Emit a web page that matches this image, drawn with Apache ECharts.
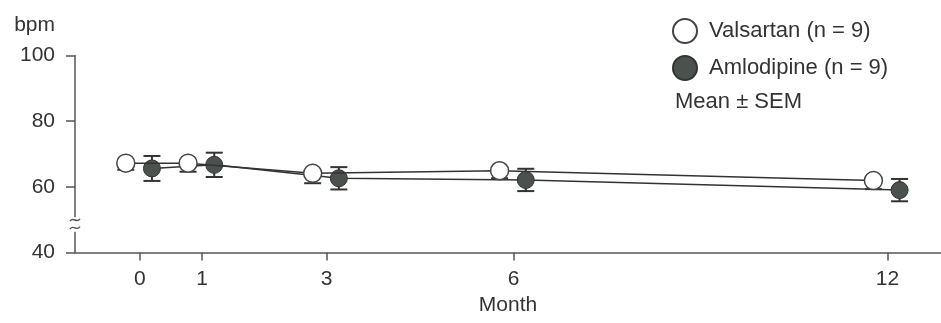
<!DOCTYPE html>
<html>
<head>
<meta charset="utf-8">
<script src="https://cdn.jsdelivr.net/npm/echarts@6/dist/echarts.min.js"></script>
<style>
html,body{margin:0;padding:0;background:#fff;}
#main{width:941px;height:323px;}
</style>
</head>
<body>
<div id="main"></div>
<script>
// ---- data ----
const months = [0, 1, 3, 6, 12];
const xTickLabels = ['0', '1', '3', '6', '12'];
const yTicks = [40, 60, 80, 100];
const valsartanMean = [67.2, 67.2, 64.1, 64.9, 61.9];
const valsartanSem = [2.0, 2.6, 3.0, 2.3, 2.6];
const amlodipineMean = [65.6, 66.7, 62.6, 62.1, 59.0];
const amlodipineSem = [3.8, 3.7, 3.4, 3.4, 3.4];
const seriesNames = ['Valsartan (n = 9)', 'Amlodipine (n = 9)'];

// small horizontal dodge so the two groups do not overlap (in months)
const dodgeV = -0.225, dodgeA = 0.195;

const FONT = 'Liberation Sans, Arial, sans-serif';
const INK = '#333';

const vPts = months.map((m, i) => [m + dodgeV, valsartanMean[i]]);
const aPts = months.map((m, i) => [m + dodgeA, amlodipineMean[i]]);
// [x, low, high, showTopCap]
const vErr = months.map((m, i) => [m + dodgeV, valsartanMean[i] - valsartanSem[i], valsartanMean[i], 0]);
const aErr = months.map((m, i) => [m + dodgeA, amlodipineMean[i] - amlodipineSem[i], amlodipineMean[i] + amlodipineSem[i], 1]);

function errRender(params, api) {
  const x = api.value(0), lo = api.value(1), hi = api.value(2), top = api.value(3);
  const pLo = api.coord([x, lo]);
  const pHi = api.coord([x, hi]);
  const hw = 8.5;
  const st = { stroke: INK, lineWidth: 2 };
  const ch = [
    { type: 'line', shape: { x1: pLo[0], y1: pLo[1], x2: pHi[0], y2: pHi[1] }, style: st },
    { type: 'line', shape: { x1: pLo[0] - hw, y1: pLo[1], x2: pLo[0] + hw, y2: pLo[1] }, style: st }
  ];
  if (top) ch.push({ type: 'line', shape: { x1: pHi[0] - hw, y1: pHi[1], x2: pHi[0] + hw, y2: pHi[1] }, style: st });
  return { type: 'group', children: ch };
}

const chart = echarts.init(document.getElementById('main'), null, { renderer: 'canvas' });
const option = {
  animation: false,
  backgroundColor: '#fff',
  textStyle: { fontFamily: FONT },
  grid: { left: 75, right: 0, top: 55.5, bottom: 70.5, containLabel: false },
  xAxis: {
    type: 'value', min: -1.04, max: 12.86,
    name: 'Month', nameLocation: 'middle', nameGap: 37,
    nameTextStyle: { fontSize: 21, color: INK, fontFamily: FONT },
    axisLine: { show: true, onZero: false, lineStyle: { color: '#555', width: 1.5 } },
    axisTick: { show: true, length: 8, customValues: months, lineStyle: { color: '#555', width: 1.5 } },
    axisLabel: { customValues: months, formatter: v => xTickLabels[months.indexOf(v)], fontSize: 21, color: INK, margin: 16, fontFamily: FONT },
    splitLine: { show: false }
  },
  yAxis: {
    type: 'value', min: 40, max: 100, interval: 20,
    axisLine: { show: true, onZero: false, lineStyle: { color: '#555', width: 1.5 } },
    axisTick: { show: true, length: 9, customValues: yTicks, lineStyle: { color: '#555', width: 1.5 } },
    axisLabel: { fontSize: 21, color: INK, margin: 20, fontFamily: FONT },
    splitLine: { show: false }
  },
  legend: {
    left: 667, top: 13, orient: 'vertical', icon: 'circle',
    itemWidth: 24, itemHeight: 24, itemGap: 11,
    data: seriesNames,
    textStyle: { fontSize: 22, color: INK, fontFamily: FONT, padding: [0, 0, 0, 7], lineHeight: 24 }
  },
  series: [
    { type: 'custom', name: 'vErr', renderItem: errRender, data: vErr, z: 1, silent: true, encode: { x: 0, y: [1, 2] } },
    { type: 'custom', name: 'aErr', renderItem: errRender, data: aErr, z: 1, silent: true, encode: { x: 0, y: [1, 2] } },
    {
      type: 'line', name: seriesNames[1], data: aPts, z: 3,
      symbol: 'circle', symbolSize: 17, showAllSymbol: true,
      lineStyle: { color: INK, width: 1.5 },
      itemStyle: { color: '#4b524e', borderColor: '#333', borderWidth: 1 }
    },
    {
      type: 'line', name: seriesNames[0], data: vPts, z: 4,
      symbol: 'circle', symbolSize: 18, showAllSymbol: true,
      lineStyle: { color: INK, width: 1.5 },
      itemStyle: { color: '#fff', borderColor: '#444', borderWidth: 1.5 }
    }
  ]
};
chart.setOption(option);

// y-axis unit label, legend note and axis-break symbol
const p100 = chart.convertToPixel({ gridIndex: 0 }, [-1.04, 100]);
const bUp = chart.convertToPixel({ gridIndex: 0 }, [-1.04, 50.8]);
const bLo = chart.convertToPixel({ gridIndex: 0 }, [-1.04, 46.3]);
const bm1 = chart.convertToPixel({ gridIndex: 0 }, [-1.04, 49.9]);
const bm2 = chart.convertToPixel({ gridIndex: 0 }, [-1.04, 47.5]);
const ax = p100[0];
function tilde(y) {
  return { type: 'bezierCurve', z: 101,
    shape: { x1: ax - 5, y1: y + 1.2, x2: ax + 5, y2: y - 1.2, cpx1: ax - 1.5, cpy1: y - 4, cpx2: ax + 1.5, cpy2: y + 4 },
    style: { stroke: '#555', lineWidth: 1.4, fill: null } };
}
chart.setOption({
  graphic: [
    { type: 'text', x: 55, y: p100[1] - 30, style: { text: 'bpm', font: '21px ' + FONT, fill: INK, align: 'right', verticalAlign: 'middle' } },
    { type: 'text', x: 675, y: 101.5, style: { text: 'Mean ± SEM', font: '22px ' + FONT, fill: INK, align: 'left', verticalAlign: 'middle' } },
    { type: 'rect', z: 100, shape: { x: ax - 4, y: bUp[1], width: 8, height: bLo[1] - bUp[1] }, style: { fill: '#fff' } },
    tilde(bm1[1]),
    tilde(bm2[1])
  ]
});
</script>
</body>
</html>
